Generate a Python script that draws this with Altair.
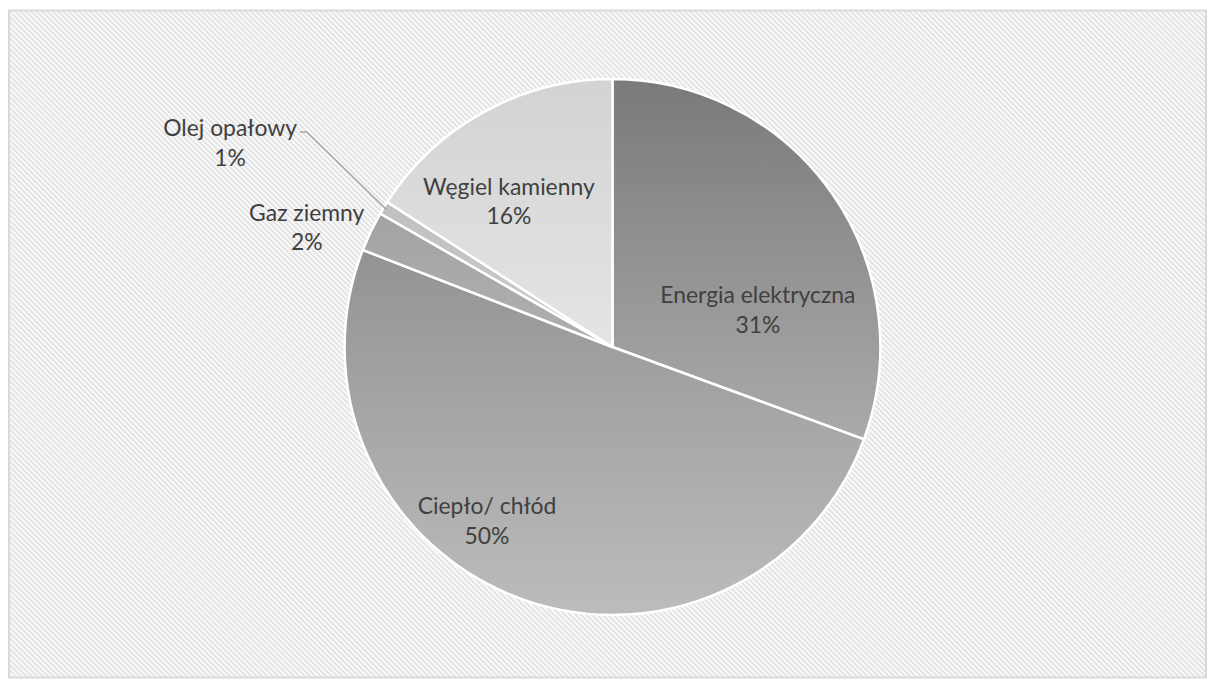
import math
import altair as alt
import pandas as pd

# ---- data ----
categories = ["Energia elektryczna", "Ciepło/ chłód", "Gaz ziemny", "Olej opałowy", "Węgiel kamienny"]
shares = [30.6, 50.3, 2.4, 0.8, 15.9]
pct_labels = ["31%", "50%", "2%", "1%", "16%"]

# ---- layout / style ----
W, H = 1204, 672
CX, CY, R = 607, 339, 269
FONT = "Lato"
TEXT_COLOR = "#404040"
LINE_H = 30

slice_grad = {
    "Energia elektryczna": ("#7a7a7a", "#aaaaaa"),
    "Ciepło/ chłód": ("#939393", "#bcbcbc"),
    "Gaz ziemny": ("#a3a3a3", "#b0b0b0"),
    "Olej opałowy": ("#c0c0c0", "#cccccc"),
    "Węgiel kamienny": ("#d3d3d3", "#e4e4e4"),
}
# label block centres, offset from the pie centre (px)
label_offset = {
    "Energia elektryczna": (146, -36),
    "Ciepło/ chłód": (-126, 176),
    "Gaz ziemny": (-307, -119),
    "Olej opałowy": (-384, -204),
    "Węgiel kamienny": (-104, -145),
}

df = pd.DataFrame({"cat": categories, "share": shares, "pct": pct_labels})
df["end"] = df["share"].cumsum()
df["start"] = df["end"] - df["share"]
df["mid"] = (df["start"] + df["end"]) / 2
df["label"] = df["cat"] + "\n" + df["pct"]
df["lx"] = [CX + label_offset[c][0] for c in df["cat"]]
df["ly"] = [CY + label_offset[c][1] for c in df["cat"]]

theta_scale = alt.Scale(domain=[0, 100], range=[0, 2 * math.pi])

# ---- hatched background as a striped linear gradient ----
bw, bh = W - 2, H - 2
r = bh / bw
a = (1 + r) / (1 + r * r)
span = (bw + bh) / math.sqrt(2)
period = 3.8
n = int(span / period)
stops = []
for k in range(n):
    stops.append(alt.GradientStop(offset=k / n, color="#ffffff"))
    stops.append(alt.GradientStop(offset=(k + 0.5) / n, color="#dedede"))
stops.append(alt.GradientStop(offset=1.0, color="#ffffff"))
hatch = alt.LinearGradient(gradient="linear", x1=0, y1=1, x2=a, y2=1 - a * r, stops=stops)

bg = alt.Chart(pd.DataFrame({"k": [0]})).mark_rect(
    fill=hatch, stroke="#d9d9d9", strokeWidth=2
).encode(
    x=alt.value(1), x2=alt.value(W - 1), y=alt.value(1), y2=alt.value(H - 1)
)

base = alt.Chart(df)

arcs = []
for c in categories:
    top, bottom = slice_grad[c]
    g = alt.LinearGradient(
        gradient="linear", x1=0, y1=0, x2=0, y2=1,
        stops=[alt.GradientStop(offset=0, color=top), alt.GradientStop(offset=1, color=bottom)],
    )
    arcs.append(
        base.transform_filter(alt.datum.cat == c)
        .mark_arc(radius=R, fill=g, stroke="white", strokeWidth=2.5)
        .encode(
            theta=alt.Theta("start:Q", scale=theta_scale),
            theta2="end:Q",
            x=alt.value(CX),
            y=alt.value(CY),
        )
    )

# leader line for the smallest slice
olej = df[df["cat"] == "Olej opałowy"].iloc[0]
ang = 2 * math.pi * olej["mid"] / 100
ex = CX + (R - 3) * math.sin(ang)
ey = CY - (R - 3) * math.cos(ang)
lead_df = pd.DataFrame({
    "px": [olej["lx"] + 70, olej["lx"] + 77, ex],
    "py": [olej["ly"] - 12, olej["ly"] - 12, ey],
    "o": [0, 1, 2],
})
leader = alt.Chart(lead_df).mark_line(color="#a6a6a6", strokeWidth=1.5).encode(
    x=alt.X("px:Q", scale=None, axis=None),
    y=alt.Y("py:Q", scale=None, axis=None),
    order="o:O",
)

labels = base.mark_text(
    font=FONT, fontSize=23, color=TEXT_COLOR, lineBreak="\n", lineHeight=LINE_H,
    align="center", baseline="middle", dy=-LINE_H / 2,
).encode(
    x=alt.X("lx:Q", scale=None, axis=None),
    y=alt.Y("ly:Q", scale=None, axis=None),
    text="label:N",
)

chart = alt.layer(bg, *arcs, leader, labels).properties(
    width=W, height=H, autosize=alt.AutoSizeParams(type="none"), padding=0
).configure_view(stroke=None)

chart.save("out.html", embed_options={"renderer": "svg", "actions": False})
